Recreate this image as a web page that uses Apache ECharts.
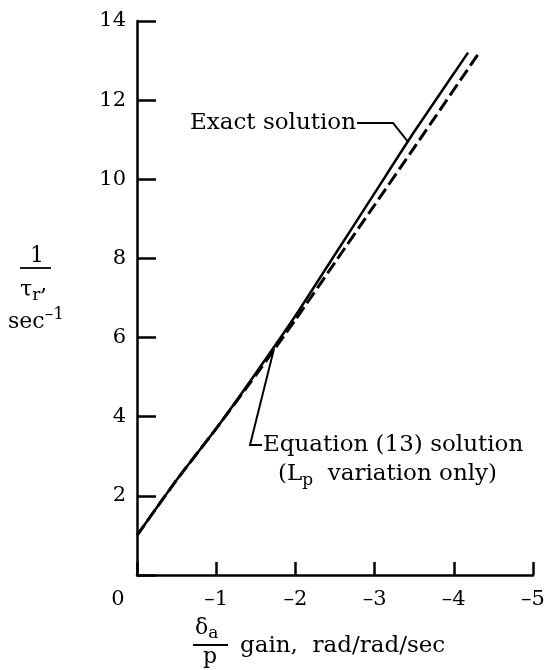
<!DOCTYPE html>
<html>
<head>
<meta charset="utf-8">
<script src="https://cdn.jsdelivr.net/npm/echarts@6/dist/echarts.min.js"></script>
<style>
  html, body { margin: 0; padding: 0; background: #fff; }
  #chart { width: 548px; height: 670px; }
</style>
</head>
<body>
<div id="chart"></div>
<script>
  // 数据
  const exactX = [0, -0.5, -1, -1.5, -2, -2.5, -3, -3.5, -4.18]
  const exactY = [1.0, 2.4, 3.7, 5.1, 6.55, 8.1, 9.65, 11.2, 13.2]
  const eqX = [0, -0.5, -1, -1.5, -2, -2.5, -3, -3.5, -4.32]
  const eqY = [1.0, 2.4, 3.7, 5.05, 6.45, 7.9, 9.35, 10.8, 13.2]
  const xTickLabels = ['0', '\u20131', '\u20132', '\u20133', '\u20134', '\u20135']
  const yTickLabels = ['', '2', '4', '6', '8', '10', '12', '14']

  const font = 'DejaVu Serif'
  const chart = echarts.init(document.getElementById('chart'), null, { renderer: 'canvas' })

  const pairs = (xs, ys) => xs.map((x, i) => [x, ys[i]])

  const option = {
    animation: false,
    grid: { left: 137, top: 21, right: 15, bottom: 95 },
    xAxis: {
      type: 'value',
      min: -5,
      max: 0,
      interval: 1,
      inverse: true,
      splitLine: { show: false },
      axisLine: { show: true, onZero: false, lineStyle: { color: '#000', width: 2.5 } },
      axisTick: { show: true, inside: true, length: 13, lineStyle: { color: '#000', width: 2.5 } },
      axisLabel: {
        showMinLabel: true,
        showMaxLabel: true,
        margin: 14,
        color: '#000',
        fontFamily: font,
        fontSize: 21,
        formatter: (v) => v === 0 ? '{o|0}' : xTickLabels[Math.round(-v)],
        rich: { o: { fontFamily: font, fontSize: 21, color: '#000', padding: [0, 38, 0, 0] } }
      }
    },
    yAxis: {
      type: 'value',
      min: 0,
      max: 14,
      interval: 2,
      splitLine: { show: false },
      axisLine: { show: true, lineStyle: { color: '#000', width: 2.5 } },
      axisTick: { show: true, inside: true, length: 19, lineStyle: { color: '#000', width: 2.5 } },
      axisLabel: {
        margin: 11,
        color: '#000',
        fontFamily: font,
        fontSize: 21,
        formatter: (v) => yTickLabels[Math.round(v / 2)]
      }
    },
    series: [
      {
        name: 'Exact solution',
        type: 'line',
        data: pairs(exactX, exactY),
        showSymbol: false,
        smooth: 0.2,
        lineStyle: { color: '#000', width: 2.5 }
      },
      {
        name: 'Equation (13) solution',
        type: 'line',
        data: pairs(eqX, eqY),
        showSymbol: false,
        smooth: 0.2,
        lineStyle: { color: '#000', width: 3, type: [13, 5] }
      }
    ]
  }
  chart.setOption(option)

  // 注释与轴标题
  const exactTip = chart.convertToPixel({ gridIndex: 0 }, [-3.42, 10.95])
  const eqTip = chart.convertToPixel({ gridIndex: 0 }, [-1.73, 5.72])
  const f = (n) => n + 'px "DejaVu Serif"'
  const txt = (x, y, text, extra) => ({
    type: 'text', x, y,
    style: Object.assign({ text, fill: '#000', font: f(22), verticalAlign: 'middle' }, extra || {})
  })
  const ln = (pts, w) => ({
    type: 'polyline',
    shape: { points: pts },
    style: { stroke: '#000', lineWidth: w || 2, fill: null }
  })

  chart.setOption({
    graphic: [
      txt(190, 123, 'Exact solution', { font: f(23) }),
      ln([[357, 123], [393, 123], exactTip]),
      ln([eqTip, [250, 445], [262, 445]]),
      txt(263, 445, 'Equation (13) solution', { font: f(23) }),
      txt(278, 474, '(L{s|p}  variation only)', {
        font: f(23),
        rich: { s: { font: f(17), padding: [14, 0, 0, 0] } }
      }),
      // y axis title
      txt(37, 256, '1', { align: 'center' }),
      ln([[20, 268], [51, 268]], 1.8),
      txt(20, 290, '\u03c4{s|r}{c|,}', {
        rich: {
          s: { font: f(17), padding: [12, 0, 0, 0] },
          c: { font: f(22), padding: [0, 0, 10, 0] }
        }
      }),
      txt(8, 322, 'sec{s|\u20131}', {
        rich: { s: { font: f(17), padding: [0, 0, 14, 0] } }
      }),
      // x axis title
      txt(195, 628, '\u03b4{s|a}', {
        rich: { s: { font: f(17), padding: [12, 0, 0, 0] } }
      }),
      ln([[193, 645], [228, 645]], 1.8),
      txt(210, 657, 'p', { align: 'center' }),
      txt(240, 646, 'gain,  rad/rad/sec', { font: f(23) })
    ]
  })
</script>
</body>
</html>
